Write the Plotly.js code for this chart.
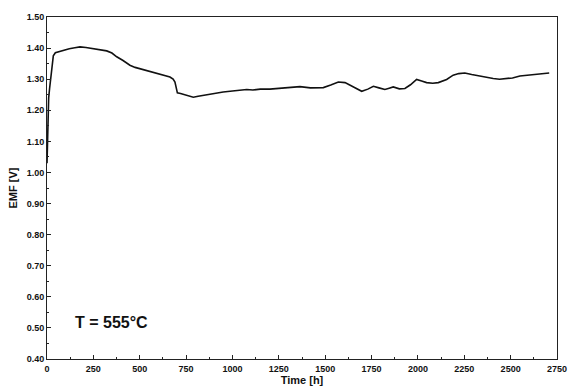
<!DOCTYPE html>
<html><head><meta charset="utf-8">
<script src="https://cdn.plot.ly/plotly-3.0.1.min.js"></script>
<style>html,body{margin:0;padding:0;background:#fff}</style>
</head><body><div id="chart" style="width:568px;height:390px"></div>
<script>
const timeH = [0, 3, 6, 9, 14, 20, 27, 34, 45, 60, 88, 120, 150, 178, 210, 250, 290, 322, 350, 376, 410, 447, 475, 501, 540, 591, 630, 663, 680, 690, 697, 703, 720, 753, 770, 789, 815, 843, 900, 950, 1000, 1040, 1077, 1110, 1150, 1202, 1256, 1310, 1364, 1420, 1490, 1530, 1571, 1607, 1650, 1697, 1730, 1760, 1790, 1822, 1845, 1867, 1900, 1930, 1960, 1993, 2020, 2047, 2080, 2110, 2155, 2190, 2220, 2253, 2290, 2334, 2370, 2406, 2440, 2478, 2510, 2550, 2590, 2622, 2660, 2708];
const emfV  = [1.03, 1.10, 1.20, 1.24, 1.27, 1.30, 1.34, 1.375, 1.385, 1.388, 1.394, 1.398, 1.401, 1.404, 1.402, 1.398, 1.396, 1.391, 1.384, 1.372, 1.360, 1.345, 1.338, 1.334, 1.328, 1.320, 1.314, 1.307, 1.300, 1.291, 1.272, 1.256, 1.254, 1.249, 1.247, 1.242, 1.245, 1.248, 1.252, 1.259, 1.262, 1.264, 1.267, 1.265, 1.268, 1.268, 1.270, 1.273, 1.276, 1.272, 1.273, 1.281, 1.291, 1.289, 1.276, 1.261, 1.268, 1.277, 1.272, 1.267, 1.271, 1.275, 1.269, 1.270, 1.282, 1.299, 1.294, 1.289, 1.287, 1.289, 1.299, 1.313, 1.318, 1.320, 1.315, 1.310, 1.305, 1.302, 1.300, 1.301, 1.304, 1.310, 1.313, 1.316, 1.317, 1.320];
const yTicks = [0.40,0.50,0.60,0.70,0.80,0.90,1.00,1.10,1.20,1.30,1.40,1.50];
const xTicks = [0,250,500,750,1000,1250,1500,1750,2000,2250,2500,2750];
const labelText = 'T = 555°C';

const fam = 'Liberation Sans, Arial, sans-serif';
const trace = {x: timeH, y: emfV, type: 'scatter', mode: 'lines',
  line: {color: '#111', width: 1.6}, hoverinfo: 'skip'};
const layout = {
  width: 568, height: 390,
  margin: {l: 47, r: 11, t: 17, b: 31},
  paper_bgcolor: '#fff', plot_bgcolor: '#fff',
  showlegend: false,
  font: {family: fam, color: '#111'},
  xaxis: {range: [0, 2750], tickvals: xTicks, ticktext: xTicks.map(String),
    ticks: 'inside', ticklen: 4, tickwidth: 1, tickcolor: '#222',
    showline: true, linecolor: '#222', linewidth: 1, mirror: true,
    showgrid: false, zeroline: false,
    minor: {dtick: 125, tick0: 0, ticks: 'inside', ticklen: 2, tickcolor: '#222', showgrid: false},
    tickfont: {size: 9, family: fam, weight: 700}, ticklabelstandoff: 1,
    title: {text: 'Time [h]', font: {size: 11, family: fam, weight: 700}, standoff: 2}},
  yaxis: {range: [0.40, 1.50], tickvals: yTicks, ticktext: yTicks.map(v => v.toFixed(2)),
    ticks: 'inside', ticklen: 4, tickwidth: 1, tickcolor: '#222',
    showline: true, linecolor: '#222', linewidth: 1, mirror: true,
    showgrid: false, zeroline: false,
    minor: {dtick: 0.05, tick0: 0.4, ticks: 'inside', ticklen: 2, tickcolor: '#222', showgrid: false},
    tickfont: {size: 9, family: fam, weight: 700},
    title: {text: 'EMF [V]', font: {size: 11, family: fam, weight: 700}, standoff: 6}},
  annotations: [{x: 140, y: 0.519, xref: 'x', yref: 'y', xanchor: 'left', yanchor: 'middle',
    text: labelText, showarrow: false,
    font: {size: 16, family: fam, weight: 700, color: '#111'}}]
};
Plotly.newPlot('chart', [trace], layout, {staticPlot: true, displayModeBar: false});
</script></body></html>
